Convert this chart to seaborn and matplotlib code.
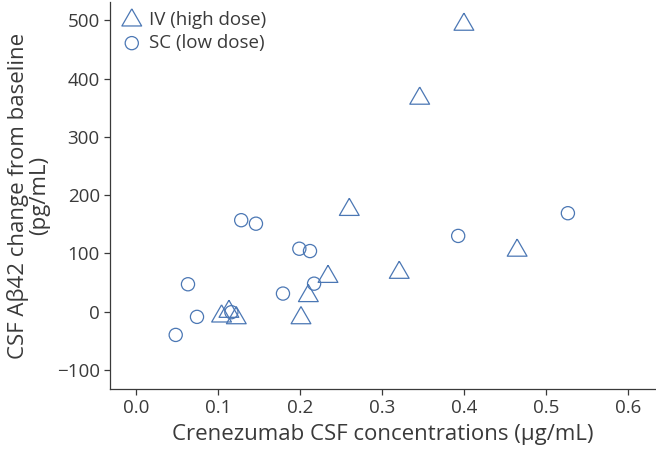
import matplotlib
matplotlib.use("Agg")
import matplotlib.pyplot as plt
import seaborn as sns
import pandas as pd

# Data
iv_conc = [0.400, 0.346, 0.260, 0.234, 0.210, 0.201, 0.104, 0.113, 0.122, 0.321, 0.465]
iv_change = [493, 366, 175, 60, 27, -11, -8, 0, -11, 67, 105]
sc_conc = [0.128, 0.146, 0.199, 0.212, 0.063, 0.217, 0.179, 0.074, 0.048, 0.116, 0.393, 0.527]
sc_change = [157, 151, 108, 104, 47, 48, 31, -9, -40, -1, 130, 169]

x_ticks = [0.0, 0.1, 0.2, 0.3, 0.4, 0.5, 0.6]
y_ticks = [-100, 0, 100, 200, 300, 400, 500]

blue = "#4B77B4"
ink = "#3a3a3a"

sns.set_theme(style="ticks")
plt.rcParams["font.family"] = ["Open Sans", "DejaVu Sans"]

fig = plt.figure(figsize=(6.56, 4.54), dpi=100)
ax = fig.add_axes([0.168, 0.143, 0.830, 0.853])

tri = [(0, 1), (-0.866, -0.5), (0.866, -0.5), (0, 1)]

df_iv = pd.DataFrame({"x": iv_conc, "y": iv_change})
df_sc = pd.DataFrame({"x": sc_conc, "y": sc_change})

sns.scatterplot(data=df_iv, x="x", y="y", marker=tri, s=270, facecolor="none",
                edgecolor=blue, linewidth=0.9, label="IV (high dose)", ax=ax)
sns.scatterplot(data=df_sc, x="x", y="y", marker="o", s=90, facecolor="none",
                edgecolor=blue, linewidth=0.9, label="SC (low dose)", ax=ax)

ax.set_xlim(-0.032, 0.633)
ax.set_ylim(-133, 532)
ax.set_xticks(x_ticks)
ax.set_xticklabels([f"{v:.1f}" for v in x_ticks])
ax.set_yticks(y_ticks)
ax.set_yticklabels([f"\u2212{abs(v)}" if v < 0 else str(v) for v in y_ticks])

ax.tick_params(axis="both", direction="out", length=4.5, width=0.9, color=ink,
               labelcolor=ink, labelsize=13.5, pad=3)
for side in ["top", "right"]:
    ax.spines[side].set_visible(False)
for side in ["left", "bottom"]:
    ax.spines[side].set_color(ink)
    ax.spines[side].set_linewidth(0.9)

ax.set_xlabel("Crenezumab CSF concentrations (\u00b5g/mL)", fontsize=16, color=ink, labelpad=5)
ax.set_ylabel("CSF A\u03b242 change from baseline\n(pg/mL)", fontsize=16, color=ink,
              labelpad=5, linespacing=1.0)

leg = ax.legend(loc="upper left", frameon=False, fontsize=13.5, handletextpad=0.25,
                borderaxespad=0.3, labelspacing=0.26, borderpad=0.2, handlelength=1.3)
for t in leg.get_texts():
    t.set_color(ink)

fig.savefig("out.png", dpi=100)
